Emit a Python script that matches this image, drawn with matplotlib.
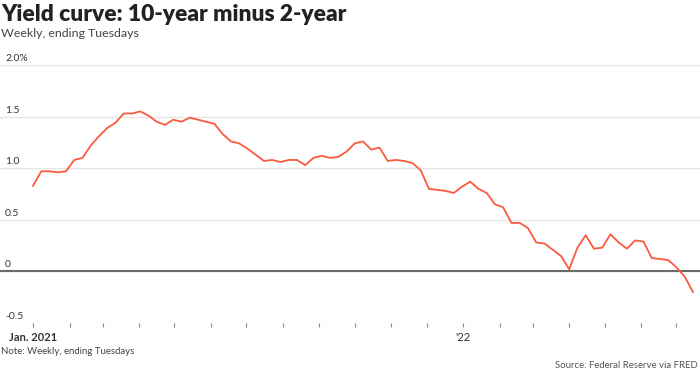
import matplotlib
matplotlib.use('Agg')
import matplotlib.pyplot as plt
import pandas as pd

# ---- data ----
dates = pd.date_range('2021-01-01', periods=81, freq='7D')  # weekly observations
spread = [0.83, 0.97, 0.97, 0.96, 0.97, 1.08, 1.10, 1.22, 1.31, 1.39,
          1.44, 1.53, 1.53, 1.55, 1.51, 1.45, 1.42, 1.47, 1.45, 1.49,
          1.47, 1.45, 1.43, 1.33, 1.26, 1.24, 1.19, 1.13, 1.07, 1.08,
          1.06, 1.08, 1.08, 1.03, 1.10, 1.12, 1.10, 1.11, 1.16, 1.24,
          1.26, 1.18, 1.20, 1.07, 1.08, 1.07, 1.05, 0.98, 0.80, 0.79,
          0.78, 0.76, 0.82, 0.87, 0.80, 0.76, 0.65, 0.62, 0.47, 0.47,
          0.42, 0.28, 0.27, 0.21, 0.15, 0.02, 0.23, 0.35, 0.22, 0.23,
          0.36, 0.28, 0.22, 0.30, 0.29, 0.13, 0.12, 0.11, 0.04, -0.05,
          -0.20]
y_ticks = [-0.5, 0, 0.5, 1.0, 1.5, 2.0]
y_labels = ['-0.5', '0', '0.5', '1.0', '1.5', '2.0%']
month_ticks = pd.date_range('2021-01-01', '2022-07-01', freq='MS')
x_labels = {pd.Timestamp('2021-01-01'): 'Jan. 2021', pd.Timestamp('2022-01-01'): "'22"}

title = 'Yield curve: 10-year minus 2-year'
subtitle = 'Weekly, ending Tuesdays'
note = 'Note: Weekly, ending Tuesdays'
source = 'Source: Federal Reserve via FRED'

plt.rcParams['font.family'] = ['Lato', 'DejaVu Sans']

W, H = 700, 376
fig = plt.figure(figsize=(W / 100, H / 100), dpi=100)
ax = fig.add_axes([0, (H - 323) / H, 1, (323 - 65) / H])

for v in y_ticks:
    ax.axhline(v, color='#e6e6e6', lw=1.0, zorder=1)
ax.axhline(0, color='#6b6b6b', lw=1.5, zorder=2)
ax.plot(dates, spread, color='#fb5a3e', lw=1.3, zorder=3, solid_joinstyle='round')

ax.set_ylim(-0.5, 2.0)
t0 = pd.Timestamp('2021-01-01')
ax.set_xlim(t0 - pd.Timedelta(days=28), t0 + pd.Timedelta(days=566))

for v, lab in zip(y_ticks, y_labels):
    ax.annotate(lab, xy=(0, v), xycoords=('axes fraction', 'data'),
                xytext=(5, 4), textcoords='offset pixels',
                ha='left', va='baseline', fontsize=7.5, color='#333333')

ax.set_yticks([])
ax.set_xticks(month_ticks)
ax.set_xticklabels([x_labels.get(d, '') for d in month_ticks])
for lbl, d in zip(ax.get_xticklabels(), month_ticks):
    if d == pd.Timestamp('2021-01-01'):
        lbl.set_fontweight('bold')
ax.tick_params(axis='x', length=3, width=0.8, color='#888888', pad=3.5,
               labelsize=8, labelcolor='#333333')
for s in ax.spines.values():
    s.set_visible(False)

fig.text(0.002, 1 - 4 / H, title, ha='left', va='top', fontsize=16.4,
         fontweight='heavy', color='#222222')
fig.text(0.002, 1 - 28 / H, subtitle, ha='left', va='top', fontsize=8.9,
         color='#444444')
fig.text(0.002, 1 - 352 / H, note, ha='left', va='center', fontsize=6.9,
         color='#444444')
fig.text(0.997, 1 - 366 / H, source, ha='right', va='center', fontsize=6.9,
         color='#555555')

fig.savefig('out.png', dpi=100)
